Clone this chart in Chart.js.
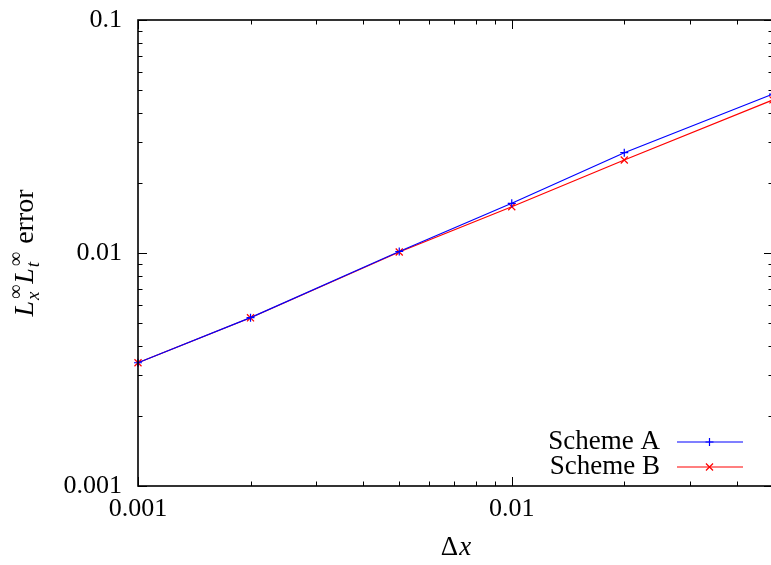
<!DOCTYPE html>
<html><head><meta charset="utf-8">
<script src="https://cdn.jsdelivr.net/npm/chart.js@4"></script>
<style>html,body{margin:0;padding:0;overflow:hidden;background:#fff}#wrap{width:775px;height:565px}</style>
</head><body><div id="wrap"><canvas id="c" width="775" height="565"></canvas></div>
<script>
const dx = [0.001, 0.002, 0.005, 0.01, 0.02, 0.05];
const schemeA = [0.00338, 0.00528, 0.01015, 0.01634, 0.02694, 0.0481];
const schemeB = [0.00338, 0.00527, 0.01010, 0.01580, 0.02507, 0.0454];
const seriesNames = ['Scheme A', 'Scheme B'];
const xTickLabels = ['0.001', '0.01'];
const yTickLabels = ['0.001', '0.01', '0.1'];
const xRange = [0.001, 0.05];
const yRange = [0.001, 0.1];

const SERIF = '"Liberation Serif", "DejaVu Serif", serif';

function logTicks(scale) {
  const out = [];
  const lo = Math.floor(Math.log10(scale.min) + 1e-9);
  const hi = Math.ceil(Math.log10(scale.max) - 1e-9);
  for (let d = lo; d <= hi; d++) {
    for (let m = 1; m <= 9; m++) {
      const v = +(m * Math.pow(10, d)).toPrecision(6);
      if (v >= scale.min * 0.9999 && v <= scale.max * 1.0001) out.push({ value: v, major: m === 1 });
    }
  }
  scale.ticks = out;
}
function labelFrom(list) {
  return (value) => {
    const hit = list.find(s => Math.abs(Number(s) - value) < Number(s) * 1e-6);
    return hit || '';
  };
}

const framePlugin = {
  id: 'frame',
  afterDatasetsDraw(chart) {
    const { ctx, chartArea: a, scales } = chart;
    ctx.save();
    ctx.strokeStyle = '#000';
    ctx.lineWidth = 1;
    const xs = scales.x, ys = scales.y;
    ctx.beginPath();
    xs.ticks.forEach(t => {
      const px = Math.round(xs.getPixelForValue(t.value)) + 0.5;
      const L = t.major ? 9 : 4.5;
      ctx.moveTo(px, a.bottom); ctx.lineTo(px, a.bottom - L);
      ctx.moveTo(px, a.top); ctx.lineTo(px, a.top + L);
    });
    ys.ticks.forEach(t => {
      const py = Math.round(ys.getPixelForValue(t.value)) + 0.5;
      const L = t.major ? 9 : 4.5;
      ctx.moveTo(a.left, py); ctx.lineTo(a.left + L, py);
      ctx.moveTo(a.right, py); ctx.lineTo(a.right - L, py);
    });
    ctx.stroke();
    ctx.lineWidth = 1.6;
    ctx.strokeRect(a.left, a.top, a.right - a.left, a.bottom - a.top);

    // x title
    ctx.fillStyle = '#000';
    ctx.textBaseline = 'alphabetic';
    const f1 = '27px ' + SERIF, f2 = 'italic 27px ' + SERIF;
    ctx.font = f1; const w1 = ctx.measureText('Δ').width;
    ctx.font = f2; const w2 = ctx.measureText('x').width;
    let x0 = (a.left + a.right) / 2 - (w1 + w2) / 2;
    ctx.font = f1; ctx.textAlign = 'left'; ctx.fillText('Δ', x0, 555);
    ctx.font = f2; ctx.fillText('x', x0 + w1 + 1, 555);

    // y title
    const main = 'italic 28px ' + SERIF, up = '28px ' + SERIF, small = '20px ' + SERIF, smallI = 'italic 19px ' + SERIF;
    const parts = [
      { t: 'L', f: main },
      { sup: '∞', sub: 'x' },
      { t: 'L', f: main },
      { sup: '∞', sub: 't' },
      { t: ' error', f: up }
    ];
    let total = 0;
    parts.forEach(p => {
      if (p.t) { ctx.font = p.f; p.w = ctx.measureText(p.t).width; }
      else { ctx.font = small; const a1 = ctx.measureText(p.sup).width; ctx.font = smallI; const b1 = ctx.measureText(p.sub).width; p.w = Math.max(a1, b1) + 3; }
      total += p.w;
    });
    ctx.translate(33, 253);
    ctx.rotate(-Math.PI / 2);
    let cx = -total / 2;
    parts.forEach(p => {
      if (p.t) { ctx.font = p.f; ctx.fillText(p.t, cx, 0); }
      else {
        ctx.font = small; ctx.fillText(p.sup, cx + 2, -11);
        ctx.font = smallI; ctx.fillText(p.sub, cx + 1, 6);
      }
      cx += p.w;
    });
    ctx.restore();

    // legend
    ctx.save();
    ctx.font = '27px ' + SERIF;
    ctx.textAlign = 'right';
    ctx.textBaseline = 'alphabetic';
    chart.data.datasets.forEach((ds, i) => {
      const base = 449 + i * 25;
      const ly = base - 7;
      ctx.fillStyle = '#000';
      ctx.fillText(ds.label, 660, base);
      ctx.strokeStyle = ds.borderColor;
      ctx.lineWidth = 1.2;
      ctx.beginPath(); ctx.moveTo(677, ly); ctx.lineTo(743, ly); ctx.stroke();
      const mx = 709.5, r = ds.pointRadius;
      ctx.beginPath();
      if (ds.pointStyle === 'cross') {
        ctx.moveTo(mx - r, ly); ctx.lineTo(mx + r, ly); ctx.moveTo(mx, ly - r); ctx.lineTo(mx, ly + r);
      } else {
        const o = r * Math.SQRT1_2;
        ctx.moveTo(mx - o, ly - o); ctx.lineTo(mx + o, ly + o); ctx.moveTo(mx - o, ly + o); ctx.lineTo(mx + o, ly - o);
      }
      ctx.stroke();
    });
    ctx.restore();
  }
};

function zeroPad(s) { s.paddingTop = 0; s.paddingBottom = 0; s.paddingLeft = 0; s.paddingRight = 0; }

new Chart(document.getElementById('c'), {
  type: 'line',
  data: {
    datasets: [
      { label: seriesNames[0], data: dx.map((v, i) => ({ x: v, y: schemeA[i] })), borderColor: '#0000ff', backgroundColor: '#0000ff',
        borderWidth: 1.2, pointStyle: 'cross', pointRadius: 4, pointBorderWidth: 1.2, pointBorderColor: '#0000ff', fill: false, tension: 0, clip: false },
      { label: seriesNames[1], data: dx.map((v, i) => ({ x: v, y: schemeB[i] })), borderColor: '#ff0000', backgroundColor: '#ff0000',
        borderWidth: 1.2, pointStyle: 'crossRot', pointRadius: 5, pointBorderWidth: 1.2, pointBorderColor: '#ff0000', fill: false, tension: 0, clip: false }
    ]
  },
  options: {
    responsive: false,
    animation: false,
    layout: { autoPadding: false, padding: { top: 20, right: 2, left: 0, bottom: 0 } },
    plugins: { legend: { display: false }, tooltip: { enabled: false } },
    scales: {
      x: {
        type: 'logarithmic', min: xRange[0], max: xRange[1],
        grid: { display: false, drawTicks: false }, border: { display: false },
        afterBuildTicks: logTicks,
        afterFit: s => { s.height = 79; zeroPad(s); },
        ticks: { callback: labelFrom(xTickLabels), autoSkip: false, maxRotation: 0, minRotation: 0, padding: 8,
          color: '#000', font: { family: SERIF, size: 26 } }
      },
      y: {
        type: 'logarithmic', min: yRange[0], max: yRange[1],
        grid: { display: false, drawTicks: false }, border: { display: false },
        afterBuildTicks: logTicks,
        afterFit: s => { s.width = 138; zeroPad(s); },
        ticks: { callback: labelFrom(yTickLabels), autoSkip: false, padding: 16,
          color: '#000', font: { family: SERIF, size: 26 } }
      }
    }
  },
  plugins: [framePlugin]
});
</script>
</body></html>
